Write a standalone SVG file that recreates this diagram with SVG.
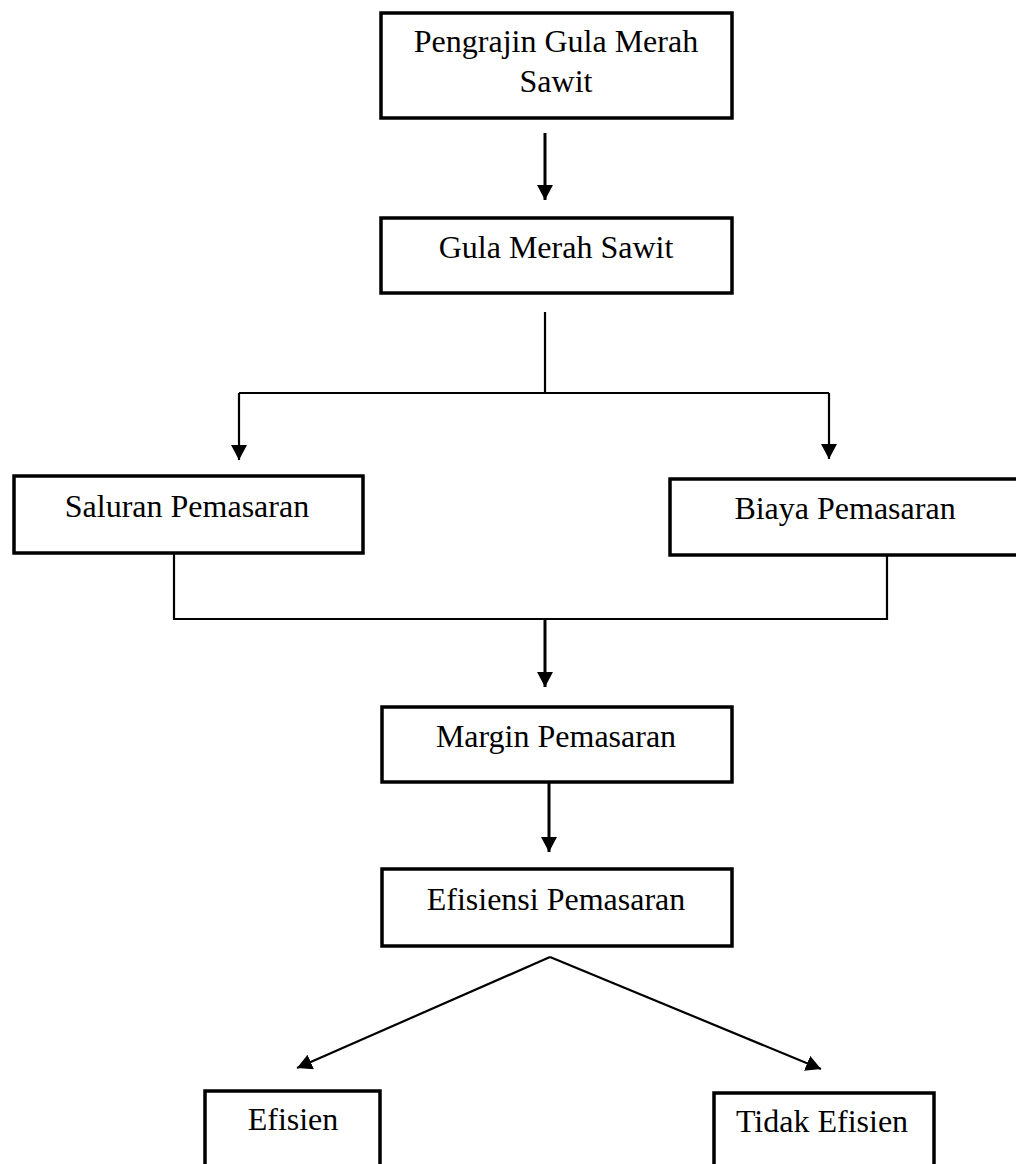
<svg xmlns="http://www.w3.org/2000/svg" width="1016" height="1164" viewBox="0 0 1016 1164">
<style>
.box{fill:#fff;stroke:#000;stroke-width:3.5}
.t{font-family:"Liberation Serif","Times New Roman",serif;font-size:32px;fill:#000;text-anchor:middle}
.c{fill:none;stroke:#000;stroke-width:2.2}
.c3{fill:none;stroke:#000;stroke-width:3}
</style>
<defs>
<marker id="ah" markerUnits="userSpaceOnUse" markerWidth="18" markerHeight="18" refX="15" refY="8" orient="auto">
<path d="M0,0 L15,8 L0,16 z" fill="#000"/>
</marker>
</defs>
<rect width="1016" height="1164" fill="#fff"/>
<g id="connectors">
<path class="c3" d="M545,133 L545,200" marker-end="url(#ah)"/>
<path class="c" d="M545,312 L545,393"/>
<path class="c" d="M239,393 L829,393"/>
<path class="c" d="M239,393 L239,460" marker-end="url(#ah)"/>
<path class="c" d="M829,393 L829,459" marker-end="url(#ah)"/>
<path class="c" d="M174,553 L174,619 L887,619 L887,555"/>
<path class="c3" d="M545,619 L545,687" marker-end="url(#ah)"/>
<path class="c3" d="M549,782 L549,852" marker-end="url(#ah)"/>
<path class="c" d="M550,957 L297,1068" marker-end="url(#ah)"/>
<path class="c" d="M550,957 L821,1069" marker-end="url(#ah)"/>
</g>
<g id="pengrajin">
<rect class="box" x="381" y="13" width="351" height="105"/>
<text class="t" x="556" y="52">Pengrajin Gula Merah</text>
<text class="t" x="556" y="92">Sawit</text>
</g>
<g id="gula">
<rect class="box" x="381" y="218" width="351" height="75"/>
<text class="t" x="556" y="258">Gula Merah Sawit</text>
</g>
<g id="saluran">
<rect class="box" x="14" y="476" width="349" height="77"/>
<text class="t" x="187" y="517">Saluran Pemasaran</text>
</g>
<g id="biaya">
<rect class="box" x="670" y="479" width="360" height="76"/>
<text class="t" x="845" y="519">Biaya Pemasaran</text>
</g>
<g id="margin">
<rect class="box" x="382" y="707" width="350" height="75"/>
<text class="t" x="556" y="747">Margin Pemasaran</text>
</g>
<g id="efisiensi">
<rect class="box" x="382" y="869" width="350" height="77"/>
<text class="t" x="556" y="910">Efisiensi Pemasaran</text>
</g>
<g id="efisien">
<rect class="box" x="205" y="1091" width="175" height="100"/>
<text class="t" x="293" y="1130">Efisien</text>
</g>
<g id="tidak">
<rect class="box" x="714" y="1093" width="220" height="100"/>
<text class="t" x="822" y="1132">Tidak Efisien</text>
</g>
</svg>
